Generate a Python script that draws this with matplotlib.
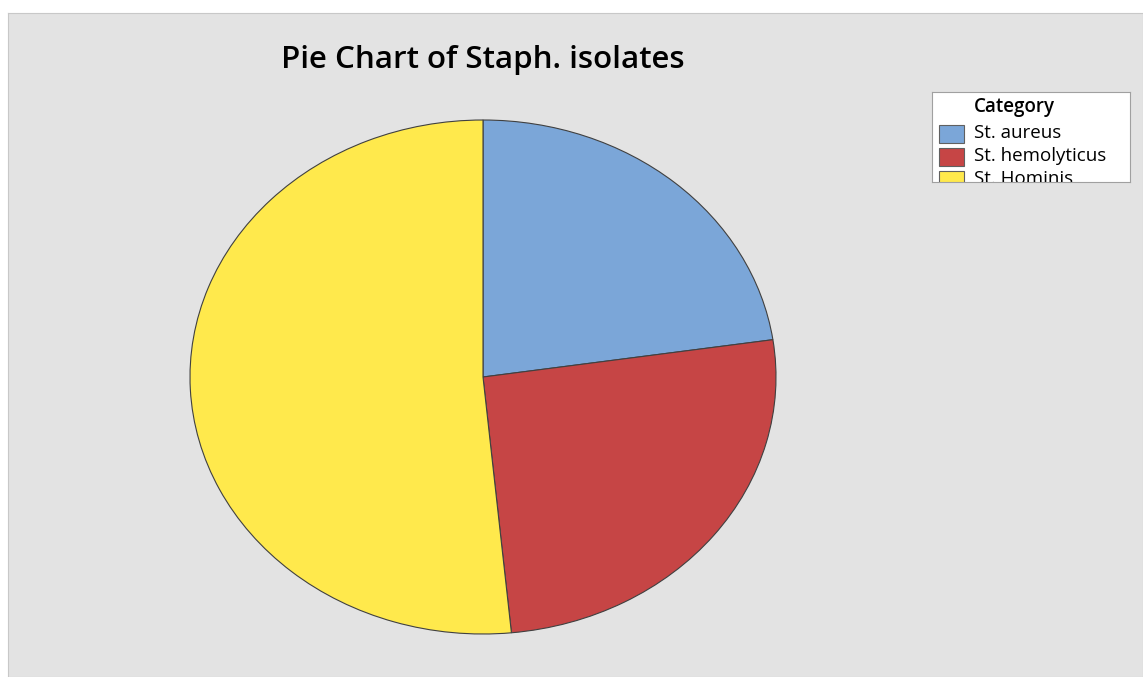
import matplotlib
matplotlib.use("Agg")
import matplotlib.pyplot as plt
from matplotlib.patches import Rectangle

# данные
categories = ["St. aureus", "St. hemolyticus", "St. Hominis"]
counts = [22, 25, 50]
colors = ["#7BA6D8", "#C64545", "#FFE94C"]

W, H = 1143, 677
fig = plt.figure(figsize=(W / 100, H / 100), dpi=100)
fig.patch.set_facecolor("white")
plt.rcParams['font.family'] = ['Open Sans', 'DejaVu Sans']


def box(x0, y0, x1, y1):
    # пиксели -> доли фигуры
    return [x0 / W, 1 - y1 / H, (x1 - x0) / W, (y1 - y0) / H]


# серый фон графика
bg = fig.add_axes(box(8, 13, W, H))
bg.set_facecolor("#E3E3E3")
bg.set_xticks([])
bg.set_yticks([])
for s in bg.spines.values():
    s.set_color("#C8C8C8")

fig.text(483 / W, 1 - 60 / H, "Pie Chart of Staph. isolates", ha="center", va="center",
         fontsize=22.5, fontweight="semibold", color="black")

# круговая диаграмма (эллипс)
ax = fig.add_axes(box(190, 120, 776, 634))
ax.pie(counts, colors=colors, startangle=90, counterclock=False, radius=1,
       wedgeprops=dict(edgecolor="#404040", linewidth=0.8))
ax.set_aspect("auto")
ax.set_xlim(-1, 1)
ax.set_ylim(-1, 1)
ax.axis("off")

# легенда (обрезана снизу, как в оригинале)
lg = fig.add_axes(box(932, 92, 1130, 182))
lg.set_xlim(0, 198)
lg.set_ylim(90, 0)
lg.set_facecolor("white")
lg.set_xticks([])
lg.set_yticks([])
for s in lg.spines.values():
    s.set_color("#A0A0A0")
    s.set_linewidth(0.8)

lg.text(42, 15, "Category", fontsize=13.5, fontweight="semibold", va="center", ha="left")
for i, (name, c) in enumerate(zip(categories, colors)):
    y = 42 + i * 23
    lg.add_patch(Rectangle((7, y - 9), 25, 18, facecolor=c, edgecolor="#606060",
                           linewidth=0.8, clip_on=True))
    lg.text(42, y - 1, name, fontsize=13.5, va="center", ha="left", clip_on=True)

fig.savefig("out.png", dpi=100)
